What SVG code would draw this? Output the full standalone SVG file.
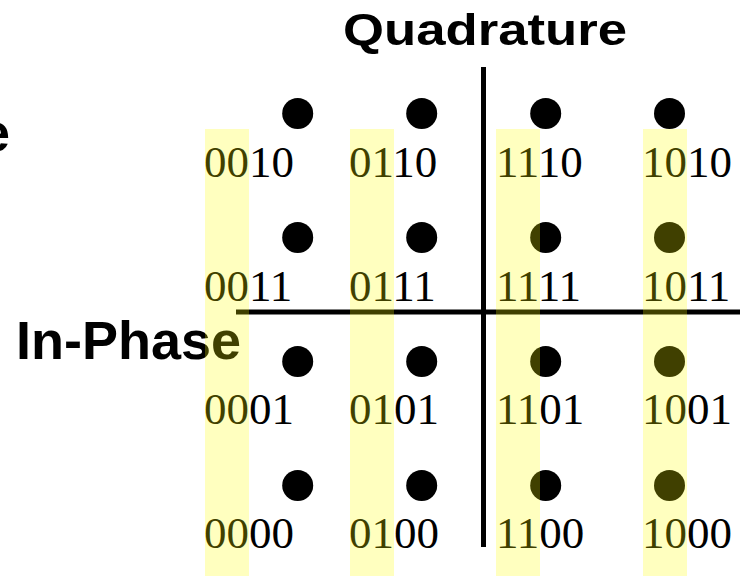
<svg xmlns="http://www.w3.org/2000/svg" width="740" height="576" viewBox="0 0 740 576">
  <style>
    .axis { stroke: #000; stroke-width: 5; fill: none; }
    .title { font-family: "Liberation Sans", Arial, sans-serif; font-weight: bold; fill: #000; }
    .pt circle { fill: #000; }
    .pt text { font-family: "Liberation Serif", "Times New Roman", serif; font-size: 45px; fill: #000; }
    .hl { fill: #ffff00; fill-opacity: 0.25; }
  </style>
  <rect width="740" height="576" fill="#fff"/>

  <!-- axis titles -->
  <text class="title" x="10" y="151" font-size="54" text-anchor="end">e</text>
  <text id="label-quadrature" class="title" x="343" y="45" font-size="45" textLength="284" lengthAdjust="spacingAndGlyphs">Quadrature</text>
  <text id="label-inphase" class="title" x="16" y="359" font-size="54">In-Phase</text>

  <!-- I/Q axes -->
  <g id="connectors">
    <line class="axis" x1="483.5" y1="67" x2="483.5" y2="547"/>
    <line class="axis" x1="236" y1="312" x2="740" y2="312"/>
  </g>

  <!-- constellation points: dot + Gray-code label -->
  <g id="p0010" class="pt"><circle cx="297.7" cy="113.5" r="15.5"/><text x="204" y="176.6">0010</text></g>
  <g id="p0110" class="pt"><circle cx="421.7" cy="113.5" r="15.5"/><text x="349" y="176.6">0110</text></g>
  <g id="p1110" class="pt"><circle cx="545.7" cy="113.5" r="15.5"/><text x="496" y="176.6">1110</text></g>
  <g id="p1010" class="pt"><circle cx="669.5" cy="113.5" r="15.5"/><text x="642" y="176.6">1010</text></g>

  <g id="p0011" class="pt"><circle cx="297.7" cy="237.5" r="15.5"/><text x="204" y="300.5">0011</text></g>
  <g id="p0111" class="pt"><circle cx="421.7" cy="237.5" r="15.5"/><text x="349" y="300.5">0111</text></g>
  <g id="p1111" class="pt"><circle cx="545.7" cy="237.5" r="15.5"/><text x="496" y="300.5">1111</text></g>
  <g id="p1011" class="pt"><circle cx="669.5" cy="237.5" r="15.5"/><text x="642" y="300.5">1011</text></g>

  <g id="p0001" class="pt"><circle cx="297.7" cy="361.5" r="15.5"/><text x="204" y="424.4">0001</text></g>
  <g id="p0101" class="pt"><circle cx="421.7" cy="361.5" r="15.5"/><text x="349" y="424.4">0101</text></g>
  <g id="p1101" class="pt"><circle cx="545.7" cy="361.5" r="15.5"/><text x="496" y="424.4">1101</text></g>
  <g id="p1001" class="pt"><circle cx="669.5" cy="361.5" r="15.5"/><text x="642" y="424.4">1001</text></g>

  <g id="p0000" class="pt"><circle cx="297.7" cy="485.5" r="15.5"/><text x="204" y="548.3">0000</text></g>
  <g id="p0100" class="pt"><circle cx="421.7" cy="485.5" r="15.5"/><text x="349" y="548.3">0100</text></g>
  <g id="p1100" class="pt"><circle cx="545.7" cy="485.5" r="15.5"/><text x="496" y="548.3">1100</text></g>
  <g id="p1000" class="pt"><circle cx="669.5" cy="485.5" r="15.5"/><text x="642" y="548.3">1000</text></g>

  <!-- translucent column bands over the first two bits -->
  <g id="highlights">
    <rect class="hl" x="205" y="129" width="44" height="447"/>
    <rect class="hl" x="350" y="129" width="44" height="447"/>
    <rect class="hl" x="496" y="129" width="44" height="447"/>
    <rect class="hl" x="643" y="129" width="44" height="447"/>
  </g>
</svg>
